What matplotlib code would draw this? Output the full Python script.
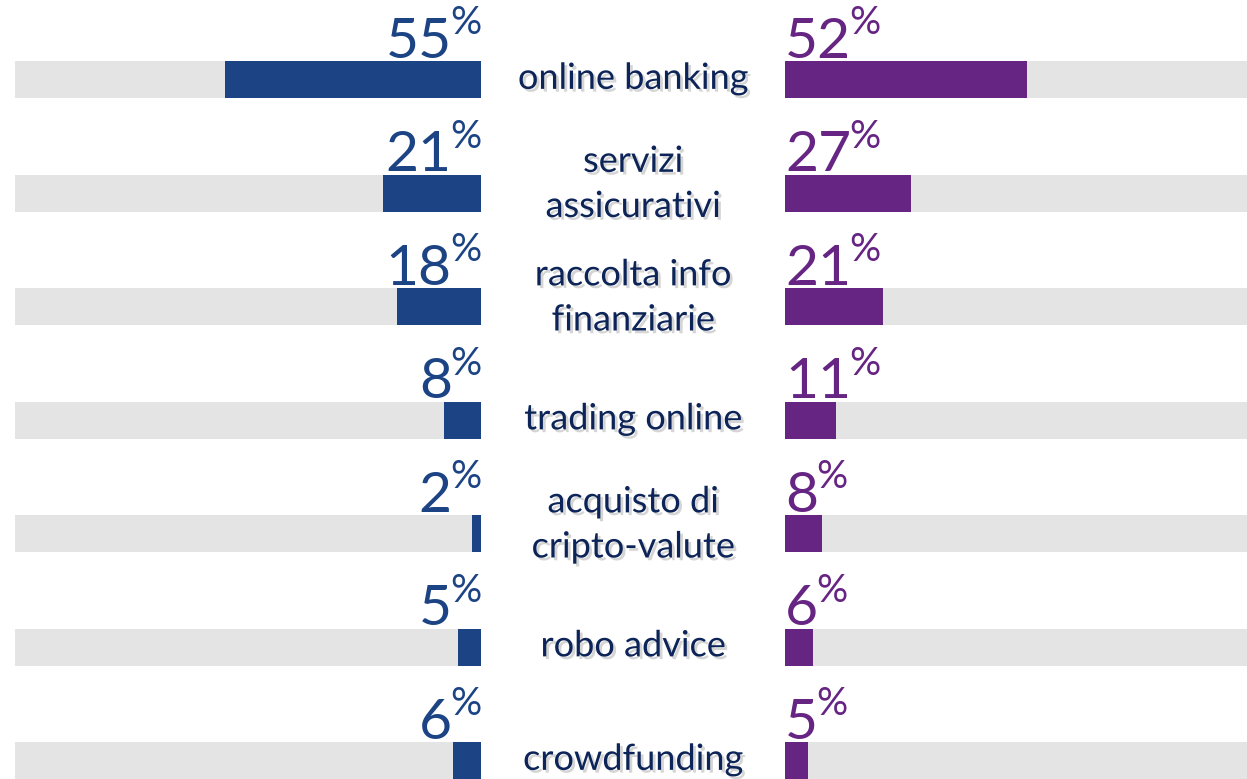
import matplotlib.pyplot as plt
import matplotlib.patheffects as pe

plt.rcParams['font.family'] = ['Lato', 'DejaVu Sans']

categories = ['online banking', 'servizi\nassicurativi', 'raccolta info\nfinanziarie',
              'trading online', 'acquisto di\ncripto-valute', 'robo advice', 'crowdfunding']
left_vals = [55, 21, 18, 8, 2, 5, 6]
right_vals = [52, 27, 21, 11, 8, 6, 5]

blue = '#1c4484'
purple = '#662483'
grey = '#e4e4e4'
navy = '#0c2458'

W, H = 1247, 779
fig = plt.figure(figsize=(W / 100, H / 100), dpi=100)

# axes in pixel units
ax_l = fig.add_axes([15 / W, 0, 466 / W, 1])
ax_r = fig.add_axes([785 / W, 0, 466 / W, 1])
ax_c = fig.add_axes([481 / W, 0, 304 / W, 1])

step = 113.5
y0 = 79.5
ylim = ((H - y0) / step, -y0 / step)
ypos = list(range(len(categories)))
bh = 37 / step

for ax in (ax_l, ax_r, ax_c):
    ax.set_ylim(*ylim)
    ax.axis('off')

ax_l.set_xlim(100, 0)
ax_r.set_xlim(0, 100)
ax_c.set_xlim(0, 1)

ax_l.barh(ypos, [100] * len(ypos), height=bh, color=grey)
ax_l.barh(ypos, left_vals, height=bh, color=blue)
ax_r.barh(ypos, [100] * len(ypos), height=bh, color=grey)
ax_r.barh(ypos, right_vals, height=bh, color=purple)

fig.canvas.draw()
renderer = fig.canvas.get_renderer()

num_size = 41
pct_size = 28
for i, (lv, rv) in enumerate(zip(left_vals, right_vals)):
    # left: % right aligned at zero, number to its left
    p = ax_l.text(0, i - 0.40, '%', ha='right', va='baseline', fontsize=pct_size, color=blue)
    w = p.get_window_extent(renderer).width
    ax_l.annotate(str(lv), xy=(0, i - 0.19), xytext=(-w + 2, 0), textcoords='offset pixels',
                  ha='right', va='baseline', fontsize=num_size, color=blue)
    # right: number left aligned at zero, % after it
    n = ax_r.text(0, i - 0.19, str(rv), ha='left', va='baseline', fontsize=num_size, color=purple)
    w = n.get_window_extent(renderer).width
    ax_r.annotate('%', xy=(0, i - 0.40), xytext=(w - 2, 0), textcoords='offset pixels',
                  ha='left', va='baseline', fontsize=pct_size, color=purple)

shadow = [pe.SimplePatchShadow(offset=(2, -2), shadow_rgbFace='#888888', alpha=0.35), pe.Normal()]
for i, cat in enumerate(categories):
    dy = -0.08 if '\n' in cat else -0.01
    ax_c.text(0.5, i + dy, cat, ha='center', va='center', fontsize=26, color=navy,
              linespacing=1.45, path_effects=shadow)

fig.savefig('out.png', dpi=100)
